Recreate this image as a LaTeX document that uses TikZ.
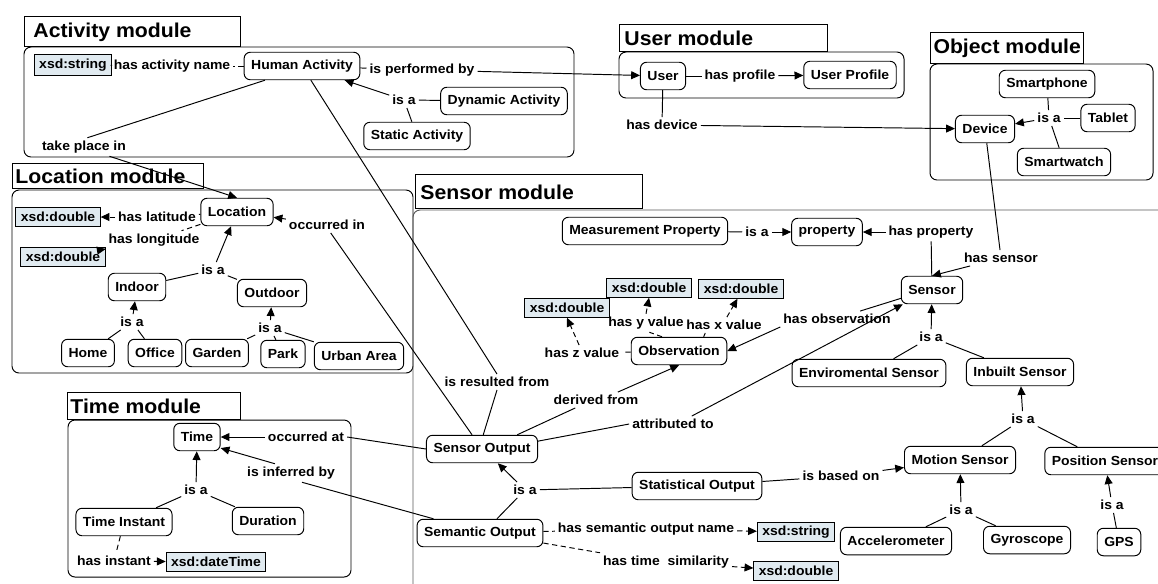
\documentclass[tikz,border=0pt]{standalone}
\usepackage{fontspec}
\setmainfont{Liberation Sans}[FakeStretch=1.06]
\usetikzlibrary{arrows.meta}

\definecolor{litfill}{RGB}{224,234,240}
\newcommand{\nodefont}{\fontsize{7.5}{8.5}\selectfont\bfseries}
\newcommand{\titlefont}{\fontsize{11.4}{13}\selectfont\bfseries}

\tikzset{
  concept/.style={draw, rounded corners=3.5pt, fill=white, font=\nodefont, inner xsep=4pt, inner ysep=1pt, minimum height=0.55cm},
  literal/.style={draw, fill=litfill, font=\nodefont, inner xsep=2.8pt, inner ysep=1pt, minimum height=0.37cm},
  lbl/.style={font=\nodefont, inner sep=1.5pt},
  modname/.style={font=\titlefont, anchor=west, inner sep=0pt},
  modbox/.style={rounded corners=4pt},
  arr/.style={-{Triangle[length=5pt,width=4.5pt]}},
  dline/.style={dash pattern=on 3pt off 2pt}
}

\begin{document}
\begin{tikzpicture}[x=0.02cm, y=-0.02cm, line width=0.55pt]
    \useasboundingbox (0,0) rectangle (1158,583);

    % Activity module
    \draw (24,16) rectangle (240,46);
    \node[modname] (actmod) at (33,32) {Activity module};
    \draw[modbox] (24,47) rectangle (574,157);
    \node[literal, minimum height=0.42cm] (actstr) at (73,65) {xsd:string};
    \node[lbl] (actname) at (172,66) {has activity name};
    \node[concept] (human) at (302,66) {Human Activity};
    \node[lbl] (perfby) at (422,70) {is performed by};
    \node[lbl] (actisa) at (404,100) {is a};
    \node[concept] (dynamic) at (504,101) {Dynamic Activity};
    \node[concept] (static) at (417,136) {Static Activity};
    \node[lbl] (takeplace) at (84,147) {take place in};

    % User module
    \draw (619,24) rectangle (827,51);
    \node[modname] (usermod) at (624,38) {User module};
    \draw[modbox] (619,52) rectangle (904,98);
    \node[concept] (user) at (663,76) {User};
    \node[lbl] (hasprof) at (740,76) {has profile};
    \node[concept] (userprof) at (850,75) {User Profile};
    \node[lbl] (hasdev) at (662,125) {has device};

    % Object module
    \draw (930,32) rectangle (1083,63);
    \node[modname] (objmod) at (933,48) {Object module};
    \draw[modbox] (930,64) rectangle (1153,180);
    \node[concept] (device) at (985,129) {Device};
    \node[concept] (smartphone) at (1047,84) {Smartphone};
    \node[lbl] (objisa) at (1049,118) {is a};
    \node[concept] (tablet) at (1108,118) {Tablet};
    \node[concept] (smartwatch) at (1064,162) {Smartwatch};

    % Location module
    \draw (12,163) rectangle (203,188);
    \node[modname] (locmod) at (15,176) {Location module};
    \draw[modbox] (12,190) rectangle (413,373);
    \node[concept] (location) at (237,212) {Location};
    \node[literal] (locdbl1) at (58,217) {xsd:double};
    \node[lbl] (haslat) at (157,217) {has latitude};
    \node[lbl] (haslong) at (154,240) {has longitude};
    \node[literal] (locdbl2) at (63,257) {xsd:double};
    \node[lbl] (occin) at (327,225) {occurred in};
    \node[lbl] (locisa) at (213,270) {is a};
    \node[concept] (indoor) at (137,287) {Indoor};
    \node[concept] (outdoor) at (272,293) {Outdoor};
    \node[lbl] (indisa) at (132,322) {is a};
    \node[lbl] (outisa) at (270,328) {is a};
    \node[concept] (home) at (88,353) {Home};
    \node[concept] (office) at (155,353) {Office};
    \node[concept] (garden) at (217,353) {Garden};
    \node[concept] (park) at (283,354) {Park};
    \node[concept] (urban) at (359,356) {Urban Area};

    % Time module
    \draw (67,392) rectangle (240,419);
    \node[modname] (timemod) at (70,406) {Time module};
    \draw[modbox] (68,420) rectangle (351,577);
    \node[concept] (time) at (197,437) {Time};
    \node[lbl] (occat) at (306,437) {occurred at};
    \node[lbl] (infby) at (291,473) {is inferred by};
    \node[lbl] (timeisa) at (196,490) {is a};
    \node[concept] (instant) at (124,522) {Time Instant};
    \node[concept] (duration) at (268,521) {Duration};
    \node[lbl] (hasinst) at (114,561) {has instant};
    \node[literal] (datetime) at (216,562) {xsd:dateTime};

    % Sensor module
    \draw (415,174) rectangle (642,208);
    \node[modname] (senmod) at (420,192) {Sensor module};
    \draw[black!65, modbox] (1170,210) -- (413,210) -- (413,600);
    \node[concept] (mprop) at (645,231) {Measurement Property};
    \node[lbl] (mpisa) at (757,232) {is a};
    \node[concept] (property) at (827,232) {property};
    \node[lbl] (hasprop) at (931,232) {has property};
    \node[lbl] (hassensor) at (1001,258) {has sensor};
    \node[concept] (sensor) at (932,290) {Sensor};
    \node[lbl] (hasobs) at (837,319) {has observation};
    \node[concept] (obs) at (679,351) {Observation};
    \node[literal] (zdbl) at (567,308) {xsd:double};
    \node[lbl] (hasz) at (582,353) {has z value};
    \node[literal] (ydbl) at (649,288) {xsd:double};
    \node[lbl] (hasy) at (646,323) {has y value};
    \node[literal] (xdbl) at (741,289) {xsd:double};
    \node[lbl] (hasx) at (724,325) {has x value};
    \node[lbl] (senisa) at (931,337) {is a};
    \node[concept] (envsensor) at (869,373) {Enviromental Sensor};
    \node[concept] (inbuilt) at (1020,372) {Inbuilt Sensor};
    \node[lbl] (resulted) at (497,382) {is resulted from};
    \node[lbl] (derived) at (596,400) {derived from};
    \node[lbl] (inbisa) at (1023,419) {is a};
    \node[lbl] (attrib) at (673,424) {attributed to};
    \node[concept] (sensorout) at (482,449) {Sensor Output};
    \node[concept] (motion) at (960,460) {Motion Sensor};
    \node[concept] (position) at (1105,461) {Position Sensor};
    \node[lbl] (basedon) at (841,476) {is based on};
    \node[concept] (statout) at (697,486) {Statistical Output};
    \node[lbl] (soisa) at (525,490) {is a};
    \node[lbl] (posisa) at (1112,505) {is a};
    \node[lbl] (motisa) at (961,510) {is a};
    \node[lbl] (hasname) at (646,529) {has semantic output name};
    \node[concept] (semout) at (480,533) {Semantic Output};
    \node[literal] (semstr) at (796,532) {xsd:string};
    \node[concept] (accel) at (896,541) {Accelerometer};
    \node[concept] (gyro) at (1027,540) {Gyroscope};
    \node[concept] (gps) at (1119,542) {GPS};
    \node[lbl] (hastime) at (666,562) {has time\ \ similarity};
    \node[literal] (semdbl) at (796,571) {xsd:double};

    % links
    \draw[dline] (actname) -- (actstr);
    \draw[dline] (human) -- (actname);
    \draw (human) -- (perfby);
    \draw[arr] (perfby) -- (user);
    \draw[arr] (actisa) -- (human);
    \draw (actisa) -- (dynamic);
    \draw (actisa) -- (static);
    \draw (human.201) -- (takeplace.70);
    \draw[arr] (takeplace.-20) -- (location.north);
    \draw (human.-58) -- (resulted.north);
    \draw (resulted.south) -- (sensorout.85);

    \draw (user) -- (hasprof);
    \draw[arr] (hasprof) -- (userprof);
    \draw (user) -- (hasdev);
    \draw[arr] (hasdev) -- (device);

    \draw (smartphone) -- (objisa);
    \draw (tablet) -- (objisa);
    \draw (smartwatch) -- (objisa);
    \draw[arr] (objisa) -- (device);
    \draw (device) -- (hassensor);
    \draw[arr] (hassensor) -- (sensor.north);

    \draw[dline] (location) -- (haslat);
    \draw[dline, arr] (haslat) -- (locdbl1);
    \draw[dline] (location) -- (haslong);
    \draw[dline, arr] (haslong) -- (locdbl2);
    \draw[arr] (locisa) -- (location);
    \draw (locisa) -- (indoor);
    \draw (locisa) -- (outdoor);
    \draw[arr] (indisa) -- (indoor);
    \draw (indisa) -- (home);
    \draw (indisa) -- (office);
    \draw[arr] (outisa) -- (outdoor);
    \draw (outisa) -- (garden);
    \draw (outisa) -- (park);
    \draw (outisa) -- (urban);
    \draw[arr] (occin) -- (location);
    \draw (sensorout.125) -- (occin.-65);

    \draw[arr] (occat) -- (time);
    \draw (sensorout.west) -- (occat.east);
    \draw[arr] (infby.150) -- (time.-25);
    \draw (semout.163) -- (infby.-40);
    \draw[arr] (timeisa) -- (time);
    \draw (timeisa) -- (instant);
    \draw (timeisa) -- (duration);
    \draw[dline] (instant) -- (hasinst);
    \draw[dline, arr] (hasinst) -- (datetime);

    \draw (mprop) -- (mpisa);
    \draw[arr] (mpisa) -- (property);
    \draw[arr] (hasprop) -- (property);
    \draw (sensor) -- (hasprop);
    \draw (sensor.195) -- (hasobs.19);
    \draw[arr] (hasobs.south west) -- (obs.east);
    \draw[dline] (obs) -- (hasz);
    \draw[dline, arr] (hasz.110) -- (zdbl.south);
    \draw[dline] (obs.140) -- (hasy.-70);
    \draw[dline, arr] (hasy.north) -- (ydbl.south);
    \draw[dline] (obs.30) -- (hasx.-157);
    \draw[dline, arr] (hasx.70) -- (xdbl.-110);
    \draw[arr] (senisa) -- (sensor);
    \draw (senisa) -- (envsensor);
    \draw (senisa) -- (inbuilt);
    \draw[arr] (inbisa) -- (inbuilt);
    \draw (inbisa) -- (motion);
    \draw (inbisa) -- (position);
    \draw[arr] (motisa) -- (motion);
    \draw (motisa) -- (accel);
    \draw (motisa) -- (gyro);
    \draw[arr] (posisa) -- (position);
    \draw (posisa) -- (gps);

    \draw (sensorout.22) -- (derived.-159);
    \draw[arr] (derived.20) -- (obs.south);
    \draw (sensorout.8) -- (attrib.west);
    \draw[arr] (attrib.23) -- (sensor.206);
    \draw[arr] (soisa.135) -- (sensorout.-42);
    \draw (soisa) -- (statout);
    \draw (soisa) -- (semout.40);
    \draw (statout) -- (basedon);
    \draw[arr] (basedon) -- (motion);
    \draw[dline] (semout) -- (hasname);
    \draw[dline, arr] (hasname) -- (semstr);
    \draw[dline] (semout.-9) -- (hastime.north west);
    \draw[dline, arr] (hastime) -- (semdbl);
\end{tikzpicture}
\end{document}
